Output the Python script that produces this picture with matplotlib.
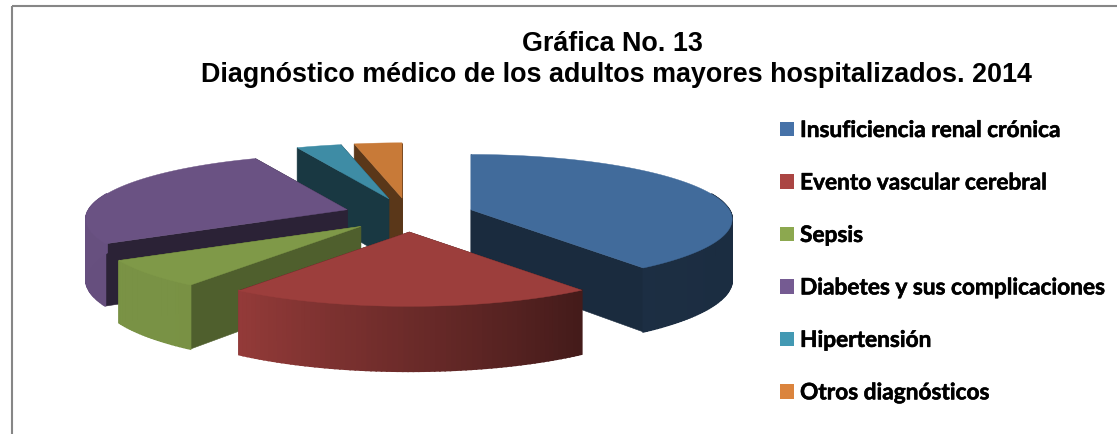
import numpy as np
import matplotlib
matplotlib.use("Agg")
import matplotlib.pyplot as plt
import matplotlib.patheffects as pe
from matplotlib.patches import Patch, Rectangle

title_lines = ["Gráfica No. 13", "Diagnóstico médico de los adultos mayores hospitalizados. 2014"]
categories = ["Insuficiencia renal crónica", "Evento vascular cerebral", "Sepsis",
              "Diabetes y sus complicaciones", "Hipertensión", "Otros diagnósticos"]
values = [40.0, 19.85, 6.85, 26.7, 3.2, 3.4]
top_colors = ["#416B9B", "#9C3E3C", "#7F9948", "#6A5283", "#3E8CA5", "#C87A38"]
legend_colors = ["#4672A8", "#AB4543", "#8CA84F", "#755B92", "#4399B3", "#DB843D"]
cut_shade = [0.40, 0.45, 0.62, 0.41, 0.40, 0.45]

# projection parameters (figure pixels)
CX, CY = 409.0, 216.0
R, K, P = 258.5, 63.4, 0.147
EX, EY = 65.0, 17.0
D = 60.0

fig = plt.figure(figsize=(11.17, 4.35), dpi=100)
ax = fig.add_axes([0, 0, 1, 1])
ax.set_xlim(0, 1117)
ax.set_ylim(435, 0)
ax.axis("off")


def project(theta, mid, r=1.0):
    """Screen position of a rim (r=1) or apex (r=0) point of one exploded slice."""
    s, c = np.sin(theta) * r, np.cos(theta) * r
    w = 1.0 / (1.0 + P * c)
    x = CX + R * s * w + EX * np.sin(mid)
    y = CY - K * c * w - EY * np.cos(mid)
    return x, y, D * np.sqrt(w)


def side_shade(theta_deg):
    return np.interp(theta_deg, [90, 144, 216, 360], [0.41, 0.43, 0.95, 1.0])


def shaded(col, f):
    return tuple(np.clip(np.array(matplotlib.colors.to_rgb(col)) * f, 0, 1))


edges = np.concatenate([[0], np.cumsum(values)]) / np.sum(values) * 2 * np.pi
mids = (edges[:-1] + edges[1:]) / 2
order = np.argsort(-np.cos(mids))

for i in order:
    a0, a1, m = edges[i], edges[i + 1], mids[i]
    col = top_colors[i]
    th = np.linspace(a0, a1, max(int(np.degrees(a1 - a0)), 4) + 1)
    xr, yr, dr = project(th, m)
    xa, ya, da = project(0.0, m, 0.0)
    # cut faces
    dark = shaded(col, cut_shade[i])
    for k in (0, -1):
        ax.fill([xa, xr[k], xr[k], xa], [ya, yr[k], yr[k] + dr[k], ya + da],
                color=dark, lw=0.4, zorder=1)
    # outer side as narrow shaded quads
    for j in range(len(th) - 1):
        if np.cos(th[j]) > 0.25 and np.cos(th[j + 1]) > 0.25:
            continue
        f = shaded(col, side_shade(np.degrees((th[j] + th[j + 1]) / 2)))
        ax.fill([xr[j], xr[j + 1], xr[j + 1], xr[j]],
                [yr[j], yr[j + 1], yr[j + 1] + dr[j + 1], yr[j] + dr[j]],
                color=f, lw=1.2, zorder=1)
    # top face
    ax.fill(np.r_[xa, xr], np.r_[ya, yr], color=col, lw=0.3, zorder=1)

# chart frame
ax.add_patch(Rectangle((12, 6.5), 1200, 600, fill=False, ec="#868686", lw=1.5, clip_on=True))

for line, xc, yc in zip(title_lines, (612, 616), (44, 75)):
    fig.text(xc / 1117, 1 - yc / 435, line, ha="center", va="center",
             family="Liberation Sans", weight="bold", fontsize=19.4, color="black")

handles = [Patch(fc=c, ec="none") for c in legend_colors]
leg = fig.legend(handles, categories, loc="upper left",
                 bbox_to_anchor=(780 / 1117, 1 - 121 / 435),
                 frameon=False, borderpad=0, borderaxespad=0,
                 prop={"family": "Lato", "weight": "bold", "size": 16.3},
                 handlelength=0.615, handleheight=0.615, handletextpad=0.27, labelspacing=1.39)
for t in leg.get_texts():
    t.set_path_effects([pe.withStroke(linewidth=0.4, foreground="black")])

fig.savefig("out.png", dpi=100, facecolor="white")
